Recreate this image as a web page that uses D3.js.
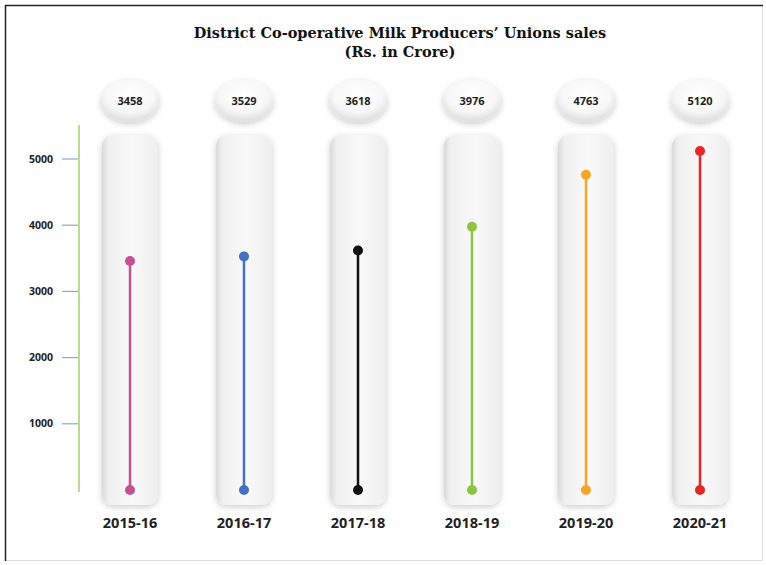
<!DOCTYPE html>
<html lang="en">
<head>
<meta charset="utf-8">
<script src="https://d3js.org/d3.v7.min.js"></script>
<title>District Co-operative Milk Producers' Unions sales</title>
<style>
  body { margin: 0; background: #fff; }
  .title { font-family: "DejaVu Serif", serif; font-weight: bold; font-size: 14.5px; fill: #111; text-anchor: middle; }
  .axis text { font-family: "Open Sans", sans-serif; font-weight: bold; font-size: 10.5px; fill: #222; }
  .val { font-family: "Open Sans", sans-serif; font-weight: bold; font-size: 11px; fill: #222; text-anchor: middle; }
  .cat { font-family: "Open Sans", sans-serif; font-weight: bold; font-size: 14.5px; fill: #222; text-anchor: middle; }
</style>
</head>
<body>
<svg width="766" height="565" id="chart"></svg>
<script>
// data
var years = ["2015-16", "2016-17", "2017-18", "2018-19", "2019-20", "2020-21"];
var sales = [3458, 3529, 3618, 3976, 4763, 5120];
var colors = ["#c9508f", "#4670c2", "#111111", "#8cc63e", "#f5a524", "#e8262a"];
var yTicks = [1000, 2000, 3000, 4000, 5000];

var svg = d3.select("#chart");

// frame
svg.append("rect").attr("x", 5.5).attr("y", 5.5).attr("width", 757).attr("height", 555)
  .attr("fill", "none").attr("stroke", "#ddd");
svg.append("path").attr("d", "M5.5,561V5.5H763").attr("fill", "none").attr("stroke", "#222").attr("stroke-width", 1.5);

var defs = svg.append("defs");
var g1 = defs.append("linearGradient").attr("id", "pill").attr("x1", 0).attr("x2", 1).attr("y1", 0).attr("y2", 0);
g1.append("stop").attr("offset", "0%").attr("stop-color", "#d9d9d9");
g1.append("stop").attr("offset", "12%").attr("stop-color", "#f0f0f0");
g1.append("stop").attr("offset", "55%").attr("stop-color", "#f9f9f9");
g1.append("stop").attr("offset", "100%").attr("stop-color", "#eeeeee");

var g2 = defs.append("radialGradient").attr("id", "oval").attr("cx", "50%").attr("cy", "35%").attr("r", "60%");
g2.append("stop").attr("offset", "0%").attr("stop-color", "#ffffff");
g2.append("stop").attr("offset", "70%").attr("stop-color", "#f7f7f7");
g2.append("stop").attr("offset", "100%").attr("stop-color", "#e2e2e2");

var sh = defs.append("filter").attr("id", "shadow").attr("x", "-30%").attr("y", "-10%").attr("width", "160%").attr("height", "125%");
sh.append("feDropShadow").attr("dx", 0).attr("dy", 2).attr("stdDeviation", 3)
  .attr("flood-color", "#000").attr("flood-opacity", 0.2);

// title
svg.append("text").attr("class", "title").attr("x", 400).attr("y", 38)
  .text("District Co-operative Milk Producers\u2019 Unions sales");
svg.append("text").attr("class", "title").attr("x", 400).attr("y", 57)
  .text("(Rs. in Crore)");

// scales
var x = d3.scalePoint().domain(years).range([130, 700]);
var y = d3.scaleLinear().domain([0, 5000]).range([490, 159]);

// y axis
svg.append("line").attr("x1", 79).attr("x2", 79).attr("y1", 125).attr("y2", 492)
  .attr("stroke", "#a3d16a").attr("stroke-width", 1.5);

var ax = svg.append("g").attr("class", "axis");
ax.selectAll("line").data(yTicks).enter().append("line")
  .attr("x1", 62).attr("x2", 78)
  .attr("y1", function(d) { return y(d); }).attr("y2", function(d) { return y(d); })
  .attr("stroke", "#93a6c4").attr("stroke-width", 1.2);
ax.selectAll("text").data(yTicks).enter().append("text")
  .attr("x", 53).attr("y", function(d) { return y(d); }).attr("dy", "0.35em")
  .attr("text-anchor", "end").text(function(d) { return d; });

// columns
var col = svg.selectAll(".col").data(years).enter().append("g")
  .attr("class", "col")
  .attr("transform", function(d) { return "translate(" + x(d) + ",0)"; });

col.append("rect")
  .attr("x", -28).attr("y", 135).attr("width", 56).attr("height", 370)
  .attr("rx", 11).attr("ry", 11)
  .attr("fill", "url(#pill)").attr("filter", "url(#shadow)");

col.append("ellipse")
  .attr("cx", 0).attr("cy", 101).attr("rx", 29).attr("ry", 21)
  .attr("fill", "url(#oval)").attr("filter", "url(#shadow)");

col.append("text").attr("class", "val").attr("y", 101).attr("dy", "0.35em")
  .text(function(d, i) { return sales[i]; });

col.append("line")
  .attr("y1", y(0)).attr("y2", function(d, i) { return y(sales[i]); })
  .attr("stroke", function(d, i) { return colors[i]; }).attr("stroke-width", 2.5);

col.append("circle").attr("cy", y(0)).attr("r", 5)
  .attr("fill", function(d, i) { return colors[i]; });
col.append("circle").attr("cy", function(d, i) { return y(sales[i]); }).attr("r", 5)
  .attr("fill", function(d, i) { return colors[i]; });

col.append("text").attr("class", "cat").attr("y", 528).text(function(d) { return d; });
</script>
</body>
</html>
